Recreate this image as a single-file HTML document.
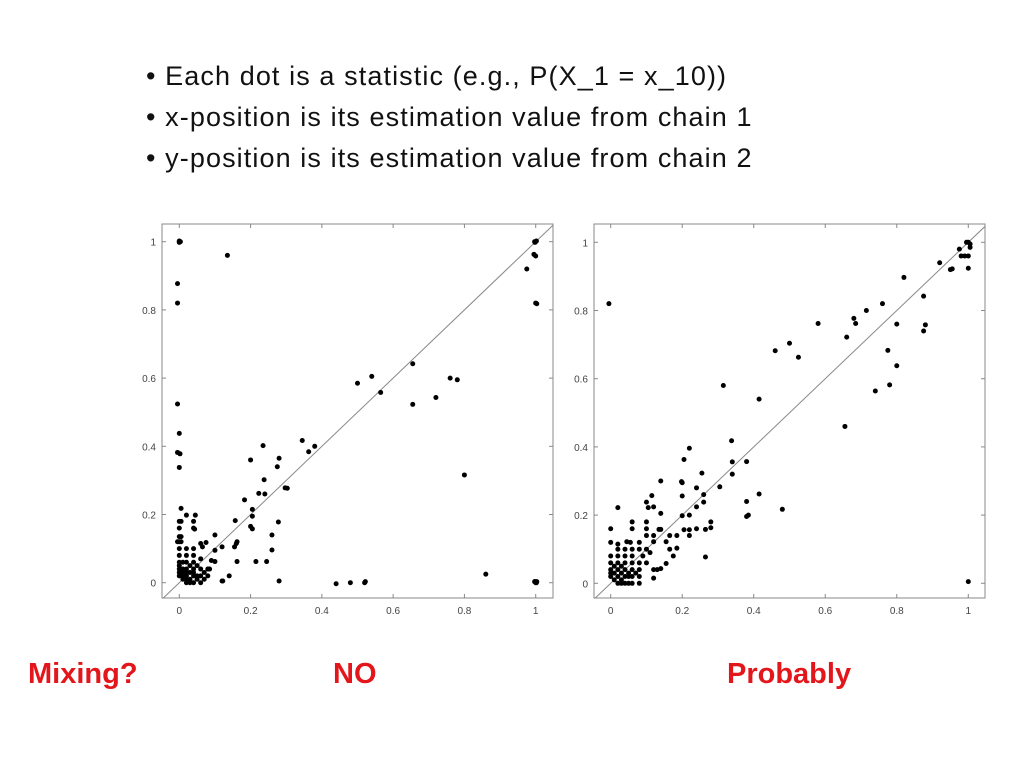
<!DOCTYPE html>
<html><head><meta charset="utf-8"><style>
body{margin:0;width:1024px;height:768px;background:#fff;overflow:hidden;font-family:"Liberation Sans",Arial,sans-serif;}
.b{position:absolute;left:146px;font-size:27px;letter-spacing:1.1px;color:#111;}
.r{position:absolute;top:658px;font-size:29px;font-weight:bold;color:#e3161b;}
svg{position:absolute;left:0;top:0;}
</style></head><body>
<div class="b" style="top:61px">• Each dot is a statistic (e.g., P(X_1 = x_10))</div>
<div class="b" style="top:102px">• x-position is its estimation value from chain 1</div>
<div class="b" style="top:143px">• y-position is its estimation value from chain 2</div>
<div class="r" style="left:28px">Mixing?</div>
<div class="r" style="left:333px">NO</div>
<div class="r" style="left:727px">Probably</div>
<svg id="s" width="1024" height="768"></svg>
<script>
const ticks=[0,0.2,0.4,0.6,0.8,1];
const tickLabels=["0","0.2","0.4","0.6","0.8","1"];
const clusterA=[[0,0.02],[0,0.04],[0,0.06],[0,0.08],[0.01,0.02],[0.01,0.04],[0.01,0.06],[0.02,0],[0.02,0.02],[0.02,0.04],[0.02,0.06],[0.02,0.08],[0.02,0.1],[0.03,0.03],[0.04,0],[0.04,0.02],[0.04,0.04],[0.04,0.06],[0.04,0.08],[0.04,0.1],[0.05,0.02],[0.05,0.05],[0.06,0],[0.06,0.02],[0.06,0.04],[0.06,0.07],[0.07,0.03],[0.07,0.01],[0.08,0.02],[0.08,0.04],[0.03,0],[0.05,0.01],[0.01,0.03],[0.0,0.03],[0.0,0.05],[0.02,0.03],[0.03,0.05],[0.01,0.01],[0.03,0.01],[0.04,0.03],[0.02,0.01]];
const xA=[0,0,0,0.135,-0.005,-0.005,-0.005,0,-0.005,0.002,0,0.005,0,0.005,0,0,0.005,0,0.005,-0.005,0,0.02,0.045,0.04,0.04,0.043,0.1,0.06,0.075,0.065,0.12,0.1,0.09,0.1,0.085,0.12,0.122,0.14,0.157,0.155,0.16,0.162,0.162,0.183,0.2,0.205,0.205,0.205,0.2,0.223,0.235,0.238,0.24,0.26,0.26,0.215,0.245,0.275,0.28,0.278,0.28,0.297,0.303,0.345,0.363,0.38,0.44,0.48,0.52,0.522,0.5,0.54,0.565,0.655,0.655,0.72,0.76,0.78,0.8,0.86,0.975,0.995,1.0,1,0.998,1.002,1,1.003,1,0.998,1.002,0.003,0.997,1.003,0.997];
const yA=[1,0.998,1.002,0.96,0.877,0.82,0.524,0.438,0.382,0.378,0.338,0.218,0.18,0.18,0.16,0.135,0.135,0.12,0.12,0.12,0.1,0.198,0.198,0.18,0.16,0.157,0.14,0.115,0.118,0.105,0.105,0.095,0.065,0.062,0.04,0.005,0.005,0.02,0.182,0.105,0.115,0.12,0.062,0.243,0.165,0.158,0.215,0.195,0.36,0.262,0.402,0.302,0.26,0.14,0.096,0.062,0.062,0.34,0.365,0.178,0.005,0.278,0.277,0.417,0.384,0.4,-0.003,0,0,0.003,0.585,0.605,0.558,0.642,0.523,0.543,0.6,0.595,0.316,0.025,0.92,0.963,0.958,1,0.998,1.002,0.82,0.818,0,0.003,0,1.0,1.0,0.003,0.003];
const clusterB=[[0,0.02],[0,0.04],[0,0.06],[0,0.08],[0.01,0.03],[0.02,0],[0.02,0.02],[0.02,0.04],[0.02,0.06],[0.02,0.08],[0.02,0.1],[0.03,0.01],[0.03,0.05],[0.04,0],[0.04,0.02],[0.04,0.04],[0.04,0.06],[0.04,0.08],[0.04,0.1],[0.05,0.02],[0.06,0],[0.06,0.02],[0.06,0.04],[0.06,0.06],[0.06,0.08],[0.06,0.1],[0.07,0.03],[0.08,0],[0.08,0.02],[0.08,0.04],[0.08,0.06],[0.08,0.1],[0.09,0.08],[0.1,0.06],[0.1,0.1],[0.11,0.09],[0.03,0.03],[0.0,0.03],[0.01,0.05],[0.03,0.0],[0.05,0.03],[0.01,0.01],[0.05,0.0]];
const xB=[-0.005,0.92,0.95,0.955,0.975,0.98,0.99,1,0.995,1,1.005,1.005,1,1,0.82,0.875,0.88,0.875,0.76,0.715,0.68,0.685,0.8,0.66,0.58,0.5,0.46,0.525,0.775,0.8,0.78,0.74,0.655,0.315,0.415,0.338,0.34,0.38,0.34,0.22,0.205,0.255,0.198,0.2,0.14,0.24,0.305,0.2,0.26,0.115,0.1,0.415,0.38,0.26,0.24,0.12,0.105,0.02,0.48,0.14,0.2,0.22,0.38,0.385,0.28,0.28,0.24,0.22,0.205,0.265,0.1,0.06,0.1,0.06,0,0.14,0.135,0.12,0.22,0.165,0.185,0.1,0.155,0.12,0.08,0.045,0.055,0,0.02,0.165,0.185,0.175,0.265,0.155,0.13,0.14,0.12,0.12];
const yB=[0.82,0.94,0.92,0.922,0.98,0.96,0.96,0.96,1,1,0.995,0.985,0.924,0.005,0.897,0.842,0.758,0.74,0.82,0.8,0.777,0.762,0.76,0.722,0.762,0.704,0.682,0.663,0.683,0.638,0.582,0.564,0.46,0.58,0.54,0.418,0.356,0.357,0.32,0.396,0.363,0.323,0.298,0.295,0.3,0.28,0.283,0.256,0.26,0.257,0.238,0.262,0.24,0.238,0.224,0.224,0.222,0.222,0.217,0.205,0.198,0.2,0.196,0.2,0.18,0.163,0.16,0.157,0.157,0.158,0.18,0.18,0.16,0.16,0.16,0.158,0.158,0.14,0.14,0.14,0.14,0.14,0.122,0.122,0.12,0.122,0.12,0.12,0.115,0.1,0.103,0.08,0.077,0.058,0.04,0.043,0.04,0.015];
const NS="http://www.w3.org/2000/svg",svg=document.getElementById('s');
function el(t,a,p){const e=document.createElementNS(NS,t);for(const k in a)e.setAttribute(k,a[k]);(p||svg).appendChild(e);return e;}
function chart(name,box,x0,x1,y0,y1,xs,ys,cl,labX){
 const g=el('g',{});
 
 
 const sx=v=>x0+(x1-x0)*v, sy=v=>y0+(y1-y0)*v;
 const fr=el('rect',{x:box[0],y:box[1],width:box[2]-box[0],height:box[3]-box[1],fill:'none',stroke:'#888','stroke-width':1},g);
 
 
 const cp=el('clipPath',{id:name+'c'},g);el('rect',{x:box[0],y:box[1],width:box[2]-box[0],height:box[3]-box[1]},cp);
 const d=el('line',{x1:sx(-0.1),y1:sy(-0.1),x2:sx(1.1),y2:sy(1.1),stroke:'#888','stroke-width':1,'clip-path':'url(#'+name+'c)'},g);
 
 
 ticks.forEach((t,i)=>{
  el('line',{x1:sx(t),y1:box[3],x2:sx(t),y2:box[3]-4,stroke:'#888'},g);
  el('line',{x1:sx(t),y1:box[1],x2:sx(t),y2:box[1]+4,stroke:'#888'},g);
  el('line',{x1:box[0],y1:sy(t),x2:box[0]+4,y2:sy(t),stroke:'#888'},g);
  el('line',{x1:box[2],y1:sy(t),x2:box[2]-4,y2:sy(t),stroke:'#888'},g);
  const tx=el('text',{x:sx(t),y:box[3]+16,'text-anchor':'middle','font-size':10,fill:'#444'},g);tx.textContent=tickLabels[i];
  
  
  const ty=el('text',{x:labX,y:sy(t)+4,'text-anchor':'end','font-size':10,fill:'#444'},g);ty.textContent=tickLabels[i];
  
  
 });
 const pts=xs.map((v,i)=>[v,ys[i]]).concat(cl);
 pts.forEach(p=>{
  const c=el('circle',{cx:sx(p[0]),cy:sy(p[1]),r:2.5,fill:'#000'},g);
  
  
 });
}
chart('chart-left',[162,224,553,598],179.3,535.7,582.7,241.7,xA,yA,clusterA,156);
chart('chart-right',[594,224,985,598],610.7,968.3,583.3,242.3,xB,yB,clusterB,588);
</script>
</body></html>
